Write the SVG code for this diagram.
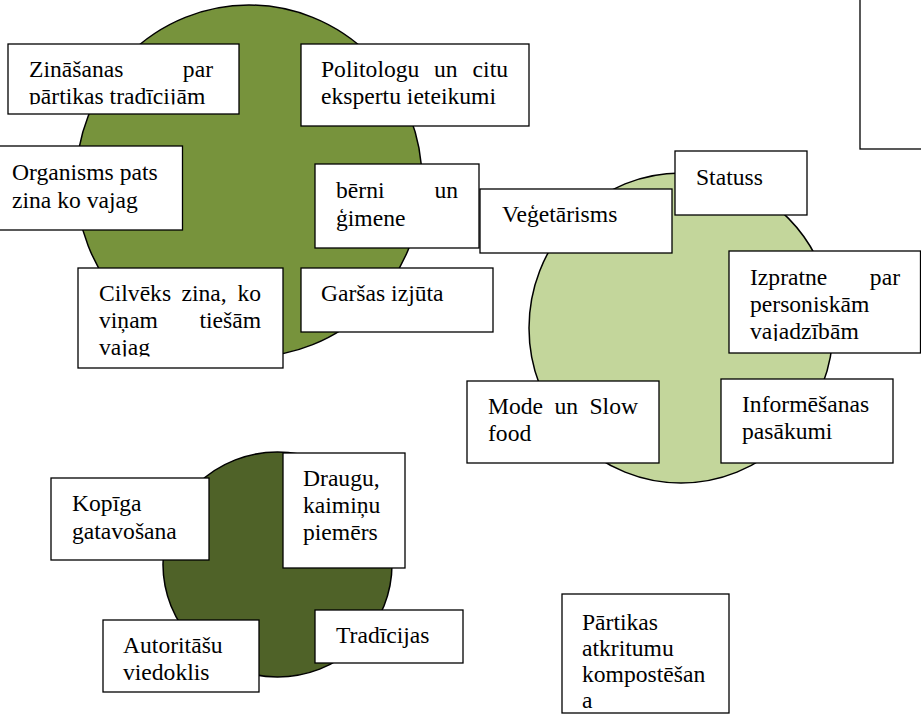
<svg xmlns="http://www.w3.org/2000/svg" width="921" height="723" viewBox="0 0 921 723" font-family="'Liberation Serif', 'Times New Roman', serif" font-size="23.6">
<style>
.box{fill:#fff;stroke:#000;stroke-width:1.3}
.c{stroke:#000;stroke-width:1.5}
.e{text-anchor:end}
</style>
<defs>
<clipPath id="clipZ"><rect x="8" y="44" width="231" height="60.5"/></clipPath>
<clipPath id="clipC"><rect x="78" y="268" width="205" height="88.5"/></clipPath>
<clipPath id="clipI"><rect x="729" y="251" width="192" height="90"/></clipPath>
</defs>
<rect width="921" height="723" fill="#fff"/>

<g id="circle-top"><ellipse class="c" cx="249" cy="181" rx="173" ry="176" fill="#77933C"/></g>
<g id="circle-right"><ellipse class="c" cx="681" cy="328" rx="152" ry="155" fill="#C3D69B"/></g>
<g id="circle-bottom"><ellipse class="c" cx="277.5" cy="564.5" rx="114.5" ry="112.5" fill="#4F6228"/></g>

<g id="connectors"></g>

<g id="n-empty"><rect class="box" x="860" y="-2" width="70" height="151"/></g>

<g id="n-zinasanas">
<rect class="box" x="8" y="44" width="231" height="70"/>
<g clip-path="url(#clipZ)">
<text x="29" y="77">Zināšanas</text><text class="e" x="213" y="77">par</text>
<text x="29" y="104">pārtikas tradīcijām</text>
</g>
</g>

<g id="n-politologu">
<rect class="box" x="301" y="44" width="228" height="82"/>
<text y="77"><tspan x="321">Politologu</tspan><tspan x="434">un</tspan></text><text class="e" x="508" y="77">citu</text>
<text x="321" y="104">ekspertu ieteikumi</text>
</g>

<g id="n-organisms">
<rect class="box" x="-2" y="146" width="184.5" height="84"/>
<text x="12" y="180">Organisms pats</text>
<text x="12" y="208">zina ko vajag</text>
</g>

<g id="n-berni">
<rect class="box" x="315" y="164" width="164" height="84"/>
<text x="336" y="198">bērni</text><text class="e" x="458" y="198">un</text>
<text x="336" y="226">ģimene</text>
</g>

<g id="n-cilveks">
<rect class="box" x="78" y="268" width="205" height="100"/>
<g clip-path="url(#clipC)">
<text y="301"><tspan x="99">Cilvēks</tspan><tspan x="181.5">zina,</tspan></text><text class="e" x="261" y="301">ko</text>
<text x="99" y="328">viņam</text><text class="e" x="261" y="328">tiešām</text>
<text x="99" y="355">vajag</text>
</g>
</g>

<g id="n-garsas">
<rect class="box" x="301" y="268" width="192" height="64"/>
<text x="321" y="301">Garšas izjūta</text>
</g>

<g id="n-vegetarisms">
<rect class="box" x="480" y="189" width="192" height="64"/>
<text x="502" y="222">Veģetārisms</text>
</g>

<g id="n-statuss">
<rect class="box" x="675" y="151" width="132" height="64"/>
<text x="696" y="185">Statuss</text>
</g>

<g id="n-izpratne">
<rect class="box" x="729" y="251" width="191.5" height="102"/>
<g clip-path="url(#clipI)">
<text x="750" y="285">Izpratne</text><text class="e" x="900" y="285">par</text>
<text x="750" y="312">personiskām</text>
<text x="750" y="339">vajadzībām</text>
</g>
</g>

<g id="n-mode">
<rect class="box" x="467" y="381" width="192" height="82"/>
<text y="414"><tspan x="488">Mode</tspan><tspan x="554.5">un</tspan></text><text class="e" x="638" y="414">Slow</text>
<text x="488" y="441">food</text>
</g>

<g id="n-informesanas">
<rect class="box" x="721" y="379" width="172" height="84"/>
<text x="742" y="412">Informēšanas</text>
<text x="742" y="439">pasākumi</text>
</g>

<g id="n-kopiga">
<rect class="box" x="51" y="478" width="158" height="82"/>
<text x="72" y="511">Kopīga</text>
<text x="72" y="539">gatavošana</text>
</g>

<g id="n-draugu">
<rect class="box" x="283" y="453" width="122" height="115"/>
<text x="303" y="486">Draugu,</text>
<text x="303" y="513">kaimiņu</text>
<text x="303" y="540">piemērs</text>
</g>

<g id="n-autoritasu">
<rect class="box" x="103" y="620" width="156" height="72"/>
<text x="123" y="653">Autoritāšu</text>
<text x="123" y="680">viedoklis</text>
</g>

<g id="n-tradicijas">
<rect class="box" x="315" y="610" width="148" height="53"/>
<text x="336" y="643">Tradīcijas</text>
</g>

<g id="n-partikas">
<rect class="box" x="562" y="594" width="167" height="119"/>
<text x="582" y="630">Pārtikas</text>
<text x="582" y="656">atkritumu</text>
<text x="582" y="682">kompostēšan</text>
<text x="582" y="708">a</text>
</g>
</svg>
